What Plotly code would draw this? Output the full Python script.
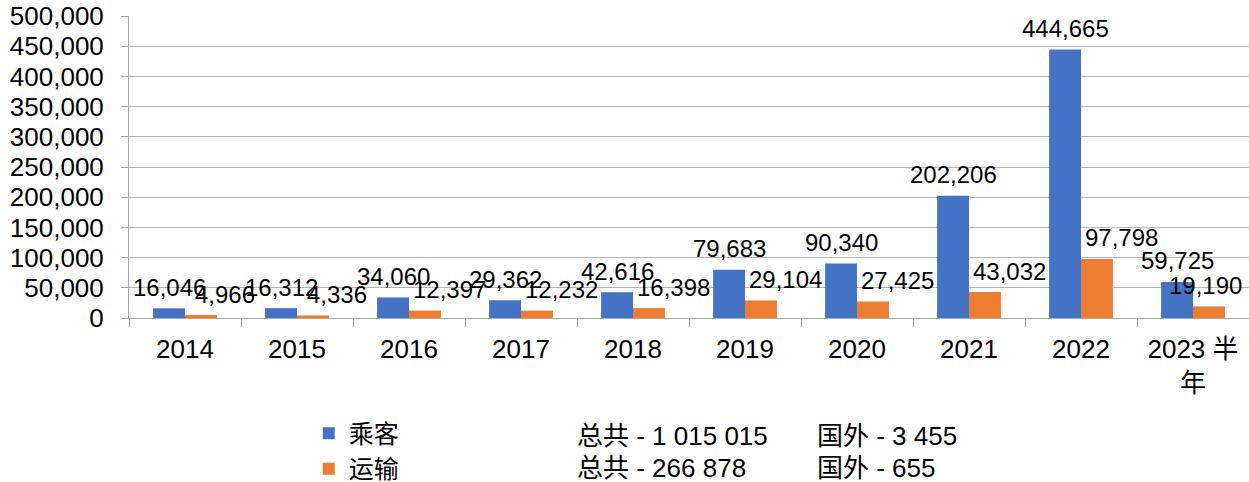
import plotly.graph_objects as go

categories = ["2014", "2015", "2016", "2017", "2018", "2019", "2020", "2021", "2022", "2023 半<br>年"]
passenger = [16046, 16312, 34060, 29362, 42616, 79683, 90340, 202206, 444665, 59725]
transport = [4966, 4336, 12397, 12232, 16398, 29104, 27425, 43032, 97798, 19190]
series_names = ["乘客", "运输"]
totals = ["1 015 015", "266 878"]
abroad = ["3 455", "655"]
colors = ["#4472C4", "#ED7D31"]

FONT = "Liberation Sans, Arial, Noto Sans CJK SC, sans-serif"

fig = go.Figure()
for name, vals, col in zip(series_names, [passenger, transport], colors):
    fig.add_trace(go.Bar(x=categories, y=vals, name=name, marker=dict(color=col, line=dict(width=0))))

annotations = []
n = len(categories)
for s, vals in enumerate([passenger, transport]):
    for i, v in enumerate(vals):
        if s == 0:
            xs = -16
        else:
            # orange labels sit right of their bar; the last one is pulled back inside the chart
            xs = 40 if i < n - 1 else 12
        annotations.append(dict(x=i, y=v, text=f"{v:,}", showarrow=False, xref="x", yref="y",
                                xshift=xs, yshift=21, yanchor="middle",
                                font=dict(size=24, color="#000000", family=FONT)))

# legend side texts
row_y = [-0.391, -0.497]
for i in range(2):
    annotations.append(dict(x=0.398, y=row_y[i], xref="paper", yref="paper", xanchor="left",
                            yanchor="middle", showarrow=False, text=f"总共 - {totals[i]}",
                            font=dict(size=26, color="#000000", family=FONT)))
    annotations.append(dict(x=0.6125, y=row_y[i], xref="paper", yref="paper", xanchor="left",
                            yanchor="middle", showarrow=False, text=f"国外 - {abroad[i]}",
                            font=dict(size=26, color="#000000", family=FONT)))

fig.update_layout(
    width=1249, height=482,
    margin=dict(l=129, r=0, t=16, b=164, autoexpand=False),
    plot_bgcolor="white", paper_bgcolor="white",
    barmode="group", bargap=0.43, bargroupgap=0,
    font=dict(family=FONT, size=26, color="#000000"),
    showlegend=True,
    legend=dict(x=0.1605, y=-0.306, xanchor="left", yanchor="top", orientation="v",
                font=dict(size=25, family=FONT), bgcolor="rgba(0,0,0,0)", tracegroupgap=0),
    annotations=annotations,
)
fig.update_xaxes(type="category", range=[-0.5, 9.5], showline=True, linecolor="#a6a6a6", linewidth=1,
                 ticks="outside", tickson="boundaries", ticklen=8, tickcolor="#a6a6a6", showgrid=False,
                 tickfont=dict(size=26), tickangle=0, ticklabelstandoff=8)
fig.update_yaxes(range=[0, 500000], dtick=50000, tickformat=",", showline=True, linecolor="#a6a6a6",
                 ticks="outside", ticklen=7, tickcolor="#a6a6a6", showgrid=True, gridcolor="#b4b4b4",
                 zeroline=False, tickfont=dict(size=26), ticklabelstandoff=12,
                 ticklabeloverflow="allow")

fig.write_html("out.html", config={"displayModeBar": False},
               post_script="document.body.style.margin='0';document.body.style.overflow='hidden';")
